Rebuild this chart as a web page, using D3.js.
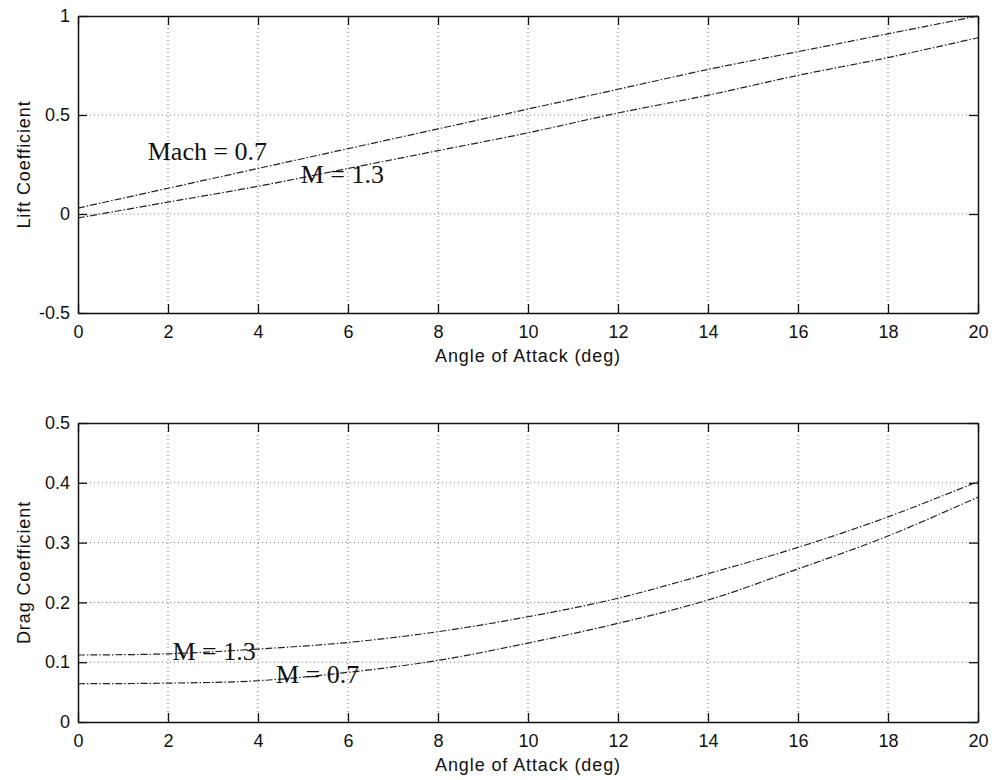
<!DOCTYPE html>
<html>
<head>
<meta charset="utf-8">
<script src="https://cdn.jsdelivr.net/npm/d3@7"></script>
<style>
  body { margin: 0; background: #fff; }
  .tick text { font-family: "Liberation Sans", Arial, sans-serif; font-size: 18px; fill: #111; }
  .axis-title { font-family: "Liberation Sans", Arial, sans-serif; font-size: 18px; fill: #111; letter-spacing: 0.9px; }
  .note { font-family: "Liberation Serif", "Times New Roman", serif; font-size: 26px; fill: #111; }
</style>
</head>
<body>
<div id="chart"></div>
<script>
// angle of attack (deg)
var alpha = [0, 2, 4, 6, 8, 10, 12, 14, 16, 18, 20];

// lift coefficient
var liftM07 = [0.03, 0.13, 0.23, 0.33, 0.43, 0.53, 0.63, 0.73, 0.82, 0.91, 1.0];
var liftM13 = [-0.02, 0.06, 0.14, 0.23, 0.32, 0.41, 0.51, 0.60, 0.70, 0.79, 0.89];

// drag coefficient
var dragM13 = [0.112, 0.114, 0.122, 0.133, 0.151, 0.176, 0.207, 0.248, 0.292, 0.343, 0.402];
var dragM07 = [0.064, 0.065, 0.069, 0.083, 0.103, 0.132, 0.165, 0.204, 0.256, 0.311, 0.376];

var xTicks = d3.range(0, 21, 2);
var liftTicks = [-0.5, 0, 0.5, 1];
var dragTicks = [0, 0.1, 0.2, 0.3, 0.4, 0.5];

var svgWidth = 992, svgHeight = 780;

var svg = d3.select("#chart")
  .append("svg")
  .attr("width", svgWidth)
  .attr("height", svgHeight);

var left = 78, right = 978;

var x = d3.scaleLinear().domain([0, 20]).range([left, right]);

function drawPanel(top, bottom, yDomain, yTicks, yTitle, series, notes) {
  var y = d3.scaleLinear().domain(yDomain).range([bottom, top]);
  var g = svg.append("g");

  // grid
  g.selectAll(".vgrid")
    .data(xTicks.slice(1, -1))
    .enter()
    .append("line")
    .attr("x1", d => x(d)).attr("x2", d => x(d))
    .attr("y1", top).attr("y2", bottom)
    .attr("stroke", "#777")
    .attr("stroke-width", 1)
    .attr("stroke-dasharray", "1,3");

  g.selectAll(".hgrid")
    .data(yTicks.slice(1, -1))
    .enter()
    .append("line")
    .attr("x1", left).attr("x2", right)
    .attr("y1", d => y(d)).attr("y2", d => y(d))
    .attr("stroke", "#777")
    .attr("stroke-width", 1)
    .attr("stroke-dasharray", "1,3");

  // axes (ticks inside, on all four sides)
  var bottomAxis = d3.axisBottom(x).tickValues(xTicks).tickSizeInner(-9).tickSizeOuter(0).tickPadding(12);
  var topAxis = d3.axisTop(x).tickValues(xTicks).tickSizeInner(-9).tickSizeOuter(0).tickFormat("");
  var leftAxis = d3.axisLeft(y).tickValues(yTicks).tickFormat(d => String(d)).tickSizeInner(-9).tickSizeOuter(0).tickPadding(8);
  var rightAxis = d3.axisRight(y).tickValues(yTicks).tickSizeInner(-9).tickSizeOuter(0).tickFormat("");

  g.append("g").attr("transform", `translate(0, ${bottom})`).call(bottomAxis);
  g.append("g").attr("transform", `translate(0, ${top})`).call(topAxis);
  g.append("g").attr("transform", `translate(${left}, 0)`).call(leftAxis);
  g.append("g").attr("transform", `translate(${right}, 0)`).call(rightAxis);

  g.selectAll(".domain").attr("stroke", "#111").attr("stroke-width", 1.5);
  g.selectAll(".tick line").attr("stroke", "#111").attr("stroke-width", 1.3);

  // curves
  var line = d3.line()
    .x((d, i) => x(alpha[i]))
    .y(d => y(d))
    .curve(d3.curveCatmullRom);

  series.forEach(function(s) {
    g.append("path")
      .datum(s)
      .attr("d", line)
      .attr("fill", "none")
      .attr("stroke", "#222")
      .attr("stroke-width", 1.2)
      .attr("stroke-dasharray", "7,2,1.5,2");
  });

  // notes
  notes.forEach(function(n) {
    g.append("text")
      .attr("class", "note")
      .attr("x", x(n.at[0]))
      .attr("y", y(n.at[1]))
      .text(n.text);
  });

  // titles
  g.append("text")
    .attr("class", "axis-title")
    .attr("text-anchor", "middle")
    .attr("x", (left + right) / 2)
    .attr("y", bottom + 49)
    .text("Angle of Attack (deg)");

  g.append("text")
    .attr("class", "axis-title")
    .attr("text-anchor", "middle")
    .attr("transform", `translate(30, ${(top + bottom) / 2}) rotate(-90)`)
    .text(yTitle);
}

drawPanel(16, 313, [-0.5, 1], liftTicks, "Lift Coefficient",
  [liftM07, liftM13],
  [{ text: "Mach = 0.7", at: [1.55, 0.273] }, { text: "M = 1.3", at: [4.95, 0.157] }]);

drawPanel(423, 722, [0, 0.5], dragTicks, "Drag Coefficient",
  [dragM13, dragM07],
  [{ text: "M = 1.3", at: [2.1, 0.104] }, { text: "M = 0.7", at: [4.4, 0.065] }]);
</script>
</body>
</html>
